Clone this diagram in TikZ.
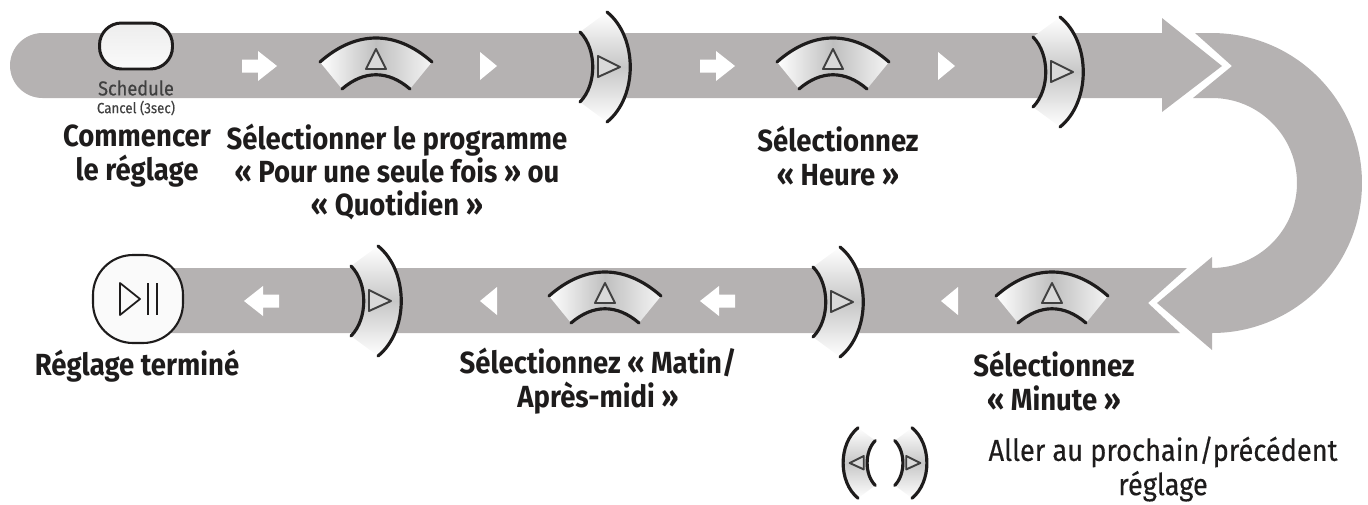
\documentclass[tikz,border=0pt]{standalone}
\usepackage{fontspec}
\setmainfont{Fira Sans}[FakeStretch=0.9]
\newfontfamily\mediumfont{Fira Sans}[FakeStretch=0.9,FakeBold=0.4]
\definecolor{band}{HTML}{B5B2B2}
\definecolor{ink}{HTML}{1E1C1C}
\tikzset{
  label/.style={font=\fontsize{17.4}{19}\selectfont\bfseries,text=ink,align=center,inner sep=0pt},
  plainlabel/.style={font=\fontsize{17.2}{19.5}\selectfont\mediumfont,text=ink,align=center,inner sep=0pt},
  arc line/.style={draw=ink,line width=1.8pt,line cap=round},
  icon/.style={draw=black!75,fill=black!15,line width=1.1pt,line join=round},
  upbtn/.pic={
    \shade[left color=white,right color=black!4,middle color=black!25]
      (-56,-4) .. controls (-20,-36) and (20,-36) .. (56,-4)
      -- (34,23) .. controls (12,4) and (-12,4) .. (-34,23) -- cycle;
    \draw[arc line] (-56,-4) .. controls (-20,-36) and (20,-36) .. (56,-4);
    \draw[arc line] (-34,23) .. controls (-12,4) and (12,4) .. (34,23);
    \draw[icon] (0,-17) -- (-10,3) -- (10,3) -- cycle;
  },
  sidebtn/.pic={
    \shade[top color=white,bottom color=white,middle color=black!22]
      (0,-55) .. controls (31,-30) and (31,30) .. (0,55)
      -- (-27,35) .. controls (-10,18) and (-10,-18) .. (-27,-35) -- cycle;
    \draw[arc line] (0,-55) .. controls (31,-30) and (31,30) .. (0,55);
    \draw[arc line] (-27,-35) .. controls (-10,-18) and (-10,18) .. (-27,35);
    \draw[icon] (-9,-11) -- (13,0) -- (-9,10) -- cycle;
  },
  rightarrow/.pic={
    \fill[white] (-18,-6.5) -- (-2,-6.5) -- (-2,-15) -- (17,0) -- (-2,15) -- (-2,6.5) -- (-18,6.5) -- cycle;
  },
  righttip/.pic={
    \fill[white] (-8,-14) -- (9,0) -- (-8,14) -- cycle;
  }
}
\begin{document}
\begin{tikzpicture}[x=0.02cm,y=-0.02cm]
  \useasboundingbox (0,0) rectangle (1368,504);
  \fill[band] (42.5,33) -- (1162,33) -- (1162,18) -- (1222,66) -- (1162,112) -- (1162,98)
              -- (42.5,98) arc[start angle=270,delta angle=-180,radius=0.65cm] -- cycle;
  \fill[band] (1212,257) -- (1157,303) -- (1212,350) -- (1212,333)
              arc[start angle=-90,delta angle=180,radius=3cm] -- (1195,33) -- (1232,66) -- (1193,98) -- (1212,98)
              arc[start angle=90,delta angle=-180,radius=1.7cm] -- cycle;
  \fill[band] (1187,268) -- (1148,303) -- (1180,333) -- (160,333) -- (160,268) -- cycle;

  \node[draw=ink,line width=1.7pt,rounded corners=.44cm,minimum width=1.46cm,minimum height=.92cm,
        inner sep=0pt,top color=black!7,bottom color=black!2] (schedule) at (136,46) {};
  \node[font=\fontsize{11.5}{12}\selectfont\mediumfont,text=black!75,inner sep=0pt] (schedname) at (136,88) {Schedule};
  \node[font=\fontsize{8.4}{10}\selectfont\mediumfont,text=black!75,inner sep=0pt] (cancel) at (136,108) {Cancel (3sec)};
  \node[draw=ink,line width=1.2pt,rounded corners=.8cm,minimum width=1.8cm,minimum height=1.76cm,
        inner sep=0pt,fill=black!2] (done) at (138,299) {};
  \draw[ink,line width=1pt,line join=round] (120,283) -- (140,299) -- (120,315) -- cycle;
  \draw[ink,line width=1pt] (148,283) -- (148,315);
  \draw[ink,line width=1pt] (157,283) -- (157,315);

  \pic at (260,66) {rightarrow};
  \pic at (376,66) {upbtn};
  \pic at (488,66) {righttip};
  \pic at (607,67) {sidebtn};
  \pic at (718,66) {rightarrow};
  \pic at (833,66) {upbtn};
  \pic at (946,66) {righttip};
  \pic at (1060,72) {sidebtn};

  \pic[xscale=-1] at (950,301) {righttip};
  \pic at (1052,300) {upbtn};
  \pic at (840,302) {sidebtn};
  \pic[xscale=-1] at (717,301) {rightarrow};
  \pic at (605,300) {upbtn};
  \pic[xscale=-1] at (489,301) {righttip};
  \pic at (378,301) {sidebtn};
  \pic[xscale=-1] at (261,301) {rightarrow};

  \pic[scale=.64] at (912,463) {sidebtn};
  \pic[xscale=-.64,yscale=.64] at (858,463) {sidebtn};

  \node[label] (start)  at (137,156)  {Commencer\\le réglage};
  \node[label] (prog)   at (397,172)  {Sélectionner le programme\\« Pour une seule fois » ou\\« Quotidien »};
  \node[label] (hour)   at (838,156)  {Sélectionnez\\« Heure »};
  \node[label] (finish) at (137,366)  {Réglage terminé};
  \node[label] (ampm)   at (598,381)  {Sélectionnez « Matin/\\Après-midi »};
  \node[label] (minute) at (1054,381) {Sélectionnez\\« Minute »};
  \node[plainlabel] (legend) at (1163,469) {Aller au prochain/précédent\\réglage};
\end{tikzpicture}
\end{document}
